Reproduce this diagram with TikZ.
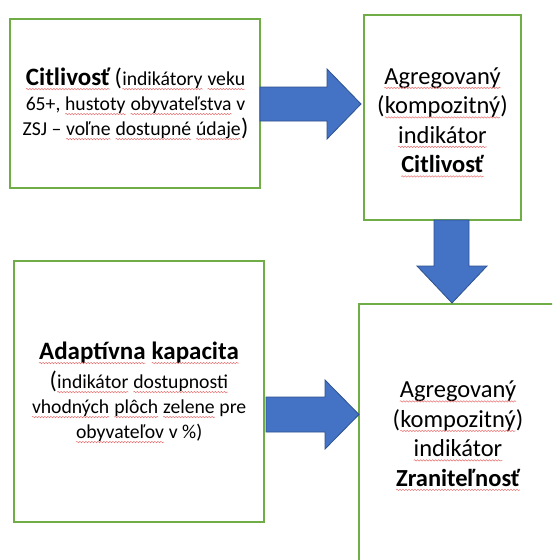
\documentclass[tikz,border=0pt]{standalone}
\usepackage{fontspec}
\setmainfont{Carlito}
\usetikzlibrary{calc,decorations.pathmorphing}
\definecolor{boxgreen}{HTML}{70AD47}
\definecolor{arrowblue}{HTML}{4472C4}
\definecolor{arrowedge}{HTML}{2F528F}
\definecolor{sqred}{HTML}{E87070}
\newcommand\sq[1]{\tikz[baseline=(sqw.base)]{\node[inner sep=0pt,outer sep=0pt,align=left] (sqw) {#1};\draw[sqred, line width=0.5pt, decorate, decoration={snake, amplitude=0.7pt, segment length=3pt}] ([yshift=-3.5pt]sqw.base west) -- ([yshift=-3.5pt]sqw.base east);}}
\newcommand\bigparen[1]{{\fontsize{24}{25}\selectfont #1}}
\newcommand\bigbold[1]{{\fontsize{25}{25}\selectfont\bfseries #1}}
\begin{document}
\begin{tikzpicture}[x=1pt,y=-1pt,
  box/.style={draw=boxgreen, line width=2pt, inner sep=0pt, outer sep=0pt},
  blockarrow/.style={fill=arrowblue, draw=arrowedge, line width=0.8pt, line join=miter},
  txt/.style={align=center, inner sep=0pt, text=black},
  smalltxt/.style={font=\fontsize{19.7}{25}\selectfont},
  bigtxt/.style={font=\fontsize{24.5}{29.5}\selectfont}]
\fill[white] (0,0) rectangle (552,560);
\useasboundingbox (0,0) rectangle (552,560);
\clip (0,0) rectangle (552,560);

% boxes
\node[box, minimum width=250pt, minimum height=169pt] (c1) at (135,103.5) {};
\node[box, minimum width=157pt, minimum height=205pt] (c2) at (442.5,117.5) {};
\node[box, minimum width=250pt, minimum height=261pt] (c3) at (139,391.5) {};
\node[box, minimum width=261pt, minimum height=336pt] (c4) at (489.5,472) {};

% block arrows
\draw[blockarrow] (c1.east |- 0,87) -- (327,87) -- (327,69) -- (361,104) -- (327,139) -- (327,121) -- (c1.east |- 0,121) -- cycle;
\draw[blockarrow] (434,0 |- c2.south) -- (434,266) -- (417,266) -- (452,303) -- (487,266) -- (469,266) -- (469,0 |- c2.south) -- cycle;
\draw[blockarrow] (266,397) -- (325,397) -- (325,380) -- (c4.west |- 0,414.5) -- (325,449) -- (325,432) -- (266,432) -- cycle;

% texts
\node[txt, smalltxt] (t1) at (135.5,104) {\bigbold{\sq{Citlivosť}} \bigparen{(}\sq{indikátory} \sq{veku}\\65+, \sq{hustoty} \sq{obyvateľstva} v\\ZSJ – \sq{voľne} \sq{dostupné} \sq{údaje}\bigparen{)}};
\node[txt, bigtxt] (t2) at (442.5,122.5) {\sq{Agregovaný}\\(\sq{kompozitný})\\\sq{indikátor}\\\textbf{\sq{Citlivosť}}};
\node[txt, font=\bfseries\fontsize{25}{30}\selectfont] (t3a) at (139,353) {\sq{Adaptívna} \sq{kapacita}};
\node[txt, smalltxt] (t3b) at (139,407) {\bigparen{(}\sq{indikátor} \sq{dostupnosti}\\\sq{vhodných} \sq{plôch} \sq{zelene} pre\\\sq{obyvateľov} v~\%)};
\node[txt, bigtxt] (t4) at (458,436) {\sq{Agregovaný}\\(\sq{kompozitný})\\\sq{indikátor}\\\textbf{\sq{Zraniteľnosť}}};
\end{tikzpicture}
\end{document}
